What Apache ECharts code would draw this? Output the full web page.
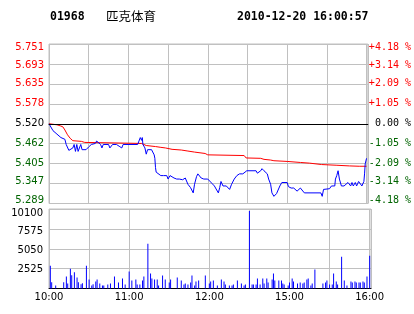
<!DOCTYPE html>
<html><head><meta charset="utf-8">
<script src="https://cdn.jsdelivr.net/npm/echarts@6/dist/echarts.min.js"></script>
<style>html,body{margin:0;padding:0;background:#fff}#c{width:414px;height:314px}</style>
</head><body><div id="c"></div>
<script>
const stockCode = '01968';
const stockName = '匹克体育';
const stamp = '2010-12-20 16:00:57';
const prevClose = 5.52;
const priceTicks = ['5.289','5.347','5.405','5.462','5.520','5.578','5.635','5.693','5.751'];
const pctTicks = ['-4.18 %','-3.14 %','-2.09 %','-1.05 %',' 0.00 %','+1.05 %','+2.09 %','+3.14 %','+4.18 %'];
const volTicks = ['', '2525', '5050', '7575', '10100'];
const timeTicks = ['10:00', '', '11:00', '', '12:00', '', '15:00', '', '16:00'];

const priceMinutes = [0,1,3,6,9,12,13,15,16,18,19,20,21,22,24,25,26,28,29,30,32,35,36,37,39,40,41,45,46,48,51,53,55,56,67,68,69,70,70.5,71,72.5,73.5,74.5,76,77.5,78.5,79.5,80,80.5,81,82.5,84.5,86.5,88,89,90,91.5,93,94.5,96.5,98.5,101,103,104,105,107,108,109,110,111.5,112.5,113.5,115,117,120,121,123,125,126.5,128,129,130,131.5,134,135,136.5,138,140,142,144,146.5,148,149.5,156.5,157.5,159,160,161,162.5,163.5,165,166,167.5,168.5,170,172,173,174.5,176,180,181,183,185,186,187.5,188.5,190,191,193,205.5,206.5,207.5,212,213.5,216,216.5,217.5,218.5,219.5,221,223,224.5,226,227,228,229,230,231.5,232.5,234,235,236.5,238,238.5,239,240];
const prices = [5.520,5.515,5.500,5.490,5.480,5.475,5.460,5.443,5.440,5.450,5.460,5.440,5.460,5.440,5.460,5.445,5.450,5.445,5.450,5.453,5.460,5.463,5.470,5.465,5.460,5.450,5.460,5.460,5.450,5.460,5.460,5.455,5.450,5.460,5.460,5.470,5.480,5.472,5.480,5.460,5.450,5.432,5.445,5.450,5.445,5.440,5.430,5.420,5.393,5.380,5.377,5.370,5.370,5.365,5.370,5.360,5.370,5.365,5.363,5.360,5.360,5.358,5.363,5.360,5.345,5.335,5.334,5.320,5.345,5.367,5.375,5.370,5.363,5.360,5.360,5.355,5.348,5.340,5.335,5.320,5.335,5.353,5.340,5.340,5.335,5.330,5.345,5.360,5.370,5.375,5.375,5.380,5.384,5.384,5.377,5.380,5.384,5.390,5.384,5.388,5.375,5.360,5.345,5.320,5.310,5.318,5.320,5.340,5.350,5.350,5.338,5.334,5.334,5.330,5.325,5.330,5.334,5.330,5.320,5.320,5.310,5.330,5.332,5.340,5.340,5.360,5.370,5.384,5.360,5.340,5.340,5.345,5.350,5.345,5.340,5.350,5.340,5.350,5.340,5.353,5.350,5.340,5.353,5.375,5.404,5.420];

const avgMinutes = [0,6,8.5,10.5,12,14,16,18,24.5,27,28,70,71,73.5,80.5,84,88,93,100,105,110,118,120,147.5,149,160,162.5,167.5,170,180,190,197,206,217,227,234.5,240];
const avgPrices = [5.520,5.517,5.514,5.511,5.502,5.488,5.478,5.471,5.469,5.466,5.464,5.463,5.461,5.457,5.454,5.452,5.450,5.446,5.444,5.441,5.438,5.434,5.430,5.428,5.421,5.420,5.417,5.415,5.413,5.411,5.408,5.406,5.402,5.400,5.398,5.397,5.397];

const volMinutes = [1,2,5,11,13,14,16,17,19,21,22,24,25,28,30,32,33,35,36,38,40,41,44,46,49,52,55,57,60,62,65,66,68,70,71,74,76,77,79,81,82,85,87,90,91,96,99,101,102,104,106,107,109,110,112,117,120,121,123,126,129,131,132,135,137,138,141,144,146,147,150,152,153,155,156,158,160,161,163,164,167,168,169,172,174,175,176,179,180,182,183,186,188,190,191,193,194,196,197,199,205,207,208,210,212,213,215,216,219,221,223,226,227,229,230,232,233,235,236,238,240];
const volumes = [2900,800,380,800,1515,630,2525,1680,2060,1390,800,550,670,2900,1140,380,550,880,1140,630,380,380,500,630,1515,760,1260,500,2150,1010,1140,500,500,1010,1515,5680,1890,1260,1140,1140,380,1640,1140,760,1140,1390,1010,500,630,500,760,1640,380,880,1010,1640,630,880,1010,380,1140,880,500,380,380,500,1010,630,380,500,9850,500,500,500,1260,500,1260,630,1260,760,1140,1890,1010,1010,1010,630,500,380,760,1260,880,630,760,630,760,1140,1260,380,630,2400,630,760,1010,500,500,1890,880,500,4040,1010,380,880,760,880,760,760,760,880,760,1515,4170];

const toPct = p => (p - prevClose) / prevClose * 100;
const GREY = '#c0c0c0', GREEN = '#006400', RED = '#ff0000';
const SANS = '"DejaVu Sans", sans-serif', MONO = '"DejaVu Sans Mono", monospace';

function pIdx(v) { return Math.round((v + 4.18) / 1.045); }
function pRich(font) {
  const r = {};
  for (let i = 0; i < 9; i++) {
    const off = i === 8 ? 6 : (i === 7 ? 3 : (i === 0 ? -6 : (i === 1 ? -5 : 0)));
    r['s' + i] = {
      color: i < 4 ? GREEN : (i === 4 ? '#000' : RED),
      fontFamily: font, fontSize: 10,
      padding: off >= 0 ? [off, 0, 0, 0] : [0, 0, -off, 0]
    };
  }
  return r;
}
const volRich = {};
[0, 2, 4, 6, 8].forEach((o, i) => { volRich['v' + i] = { color: '#000', fontFamily: SANS, fontSize: 10, padding: [o, 0, 0, 0] }; });

const chart = echarts.init(document.getElementById('c'), null, { renderer: 'canvas' });
const xBase = {
  type: 'value', min: 0, max: 241, interval: 30,
  axisLine: { show: true, lineStyle: { color: '#000', width: 1 } },
  axisTick: { show: false },
  splitLine: { show: true, lineStyle: { color: GREY, width: 1 } }
};
chart.setOption({
  animation: false,
  backgroundColor: '#fff',
  graphic: [
    { type: 'text', x: 50, y: 17, style: { text: stockCode, font: 'bold 11.5px ' + MONO, fill: '#000', align: 'left', verticalAlign: 'middle' } },
    { type: 'text', x: 106, y: 16, style: { text: stockName, font: '12.5px "Noto Sans CJK SC"', fill: '#000', align: 'left', verticalAlign: 'middle' } },
    { type: 'text', x: 237, y: 17, style: { text: stamp, font: 'bold 11.5px ' + MONO, fill: '#000', align: 'left', verticalAlign: 'middle' } }
  ],
  grid: [
    { left: 49, top: 44, width: 322, height: 159.5, show: true, borderColor: GREY, borderWidth: 1 },
    { left: 49, top: 209, width: 322, height: 79.5, show: true, borderColor: GREY, borderWidth: 1 }
  ],
  xAxis: [
    Object.assign({}, xBase, { gridIndex: 0, axisLabel: { show: false } }),
    Object.assign({}, xBase, {
      gridIndex: 1,
      axisLabel: {
        show: true, color: '#000', fontFamily: SANS, fontSize: 10, margin: 4,
        formatter: v => { const i = Math.round(v / 30); return Math.abs(v - i * 30) < 1e-6 ? (timeTicks[i] || '') : ''; }
      }
    })
  ],
  yAxis: [
    {
      type: 'value', gridIndex: 0, min: -4.18, max: 4.18, interval: 1.045,
      axisLine: { show: false }, axisTick: { show: false },
      splitLine: { show: true, lineStyle: { color: GREY, width: 1 } },
      axisLabel: { margin: 5, rich: pRich(SANS), formatter: v => { const i = pIdx(v); return '{s' + i + '|' + priceTicks[i] + '}'; } }
    },
    {
      type: 'value', gridIndex: 0, position: 'right', min: -4.18, max: 4.18, interval: 1.045,
      axisLine: { show: false }, axisTick: { show: false }, splitLine: { show: false },
      axisLabel: { margin: 1, align: 'left', rich: pRich(MONO), formatter: v => { const i = pIdx(v); return '{s' + i + '|' + pctTicks[i].replace(/ /g, '\u00a0') + '}'; } }
    },
    {
      type: 'value', gridIndex: 1, min: 0, max: 10100, interval: 2525,
      axisLine: { show: false }, axisTick: { show: false },
      splitLine: { show: true, lineStyle: { color: GREY, width: 1 } },
      axisLabel: { margin: 6, rich: volRich, formatter: v => { const i = Math.round(v / 2525); return volTicks[i] ? '{v' + i + '|' + volTicks[i] + '}' : ''; } }
    }
  ],
  series: [
    {
      type: 'line', xAxisIndex: 0, yAxisIndex: 0, symbol: 'none', z: 3,
      lineStyle: { color: '#ff0000', width: 1 },
      data: avgMinutes.map((m, i) => [m, toPct(avgPrices[i])])
    },
    {
      type: 'line', xAxisIndex: 0, yAxisIndex: 0, symbol: 'none', z: 4,
      lineStyle: { color: '#0000ff', width: 1 },
      data: priceMinutes.map((m, i) => [m, toPct(prices[i])]),
      markLine: {
        silent: true, symbol: 'none', label: { show: false }, animation: false,
        lineStyle: { color: '#000', type: 'solid', width: 1 },
        data: [{ yAxis: 0 }]
      }
    },
    {
      type: 'bar', xAxisIndex: 1, yAxisIndex: 2, barWidth: 1,
      itemStyle: { color: '#0000ff' },
      data: volMinutes.map((m, i) => [m, volumes[i]])
    }
  ]
});
</script></body></html>
